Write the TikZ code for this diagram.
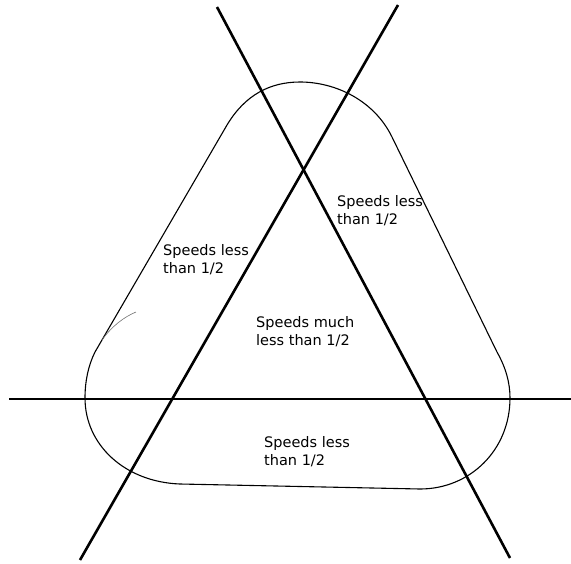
\documentclass[tikz,border=0pt]{standalone}
\usepackage{fontspec}
\setmainfont{DejaVu Sans}
\usepackage{tikz}
\usetikzlibrary{positioning}
\usepackage{xcolor}
\definecolor{inkBlack}{RGB}{0,0,0}
\definecolor{strayGray}{RGB}{110,110,110}

\begin{document}
\begin{tikzpicture}[
  x=1pt, y=-1pt,
  cut/.style={line width=2.6pt, inkBlack},
  blob/.style={line width=1.1pt, inkBlack},
  stray/.style={line width=0.6pt, strayGray},
  region/.style={anchor=north west, inner sep=0pt, align=left,
                 font=\fontsize{14.5}{18.5}\selectfont}
]
  \useasboundingbox (0,0) rectangle (571,563);
  % the three cutting lines
  \coordinate (A1) at (217,7);
  \coordinate (A2) at (510,558);
  \coordinate (B1) at (398,5);
  \coordinate (B2) at (80,560);
  \coordinate (H1) at (9,399);
  \coordinate (H2) at (571,399);
  \draw[cut] (A1) -- (A2);
  \draw[cut] (B1) -- (B2);
  \draw[cut] (H1) -- (H2);
  % rounded triangle
  \draw[blob] (227,125) .. controls (245,95) and (270,82) .. (300,82)
    .. controls (335,82) and (374,100) .. (392,137)
    -- (497,352)
    .. controls (506,368) and (510,383) .. (510,398)
    .. controls (510,450) and (470,489) .. (420,489)
    -- (180,484)
    .. controls (125,482) and (85,445) .. (85,398)
    .. controls (85,382) and (88,366) .. (95,352)
    -- cycle;
  \draw[stray] (102,340) .. controls (112,326) and (124,317) .. (136,312);
  % labels
  \node[region] (left)   at (163,244) {Speeds less\\than 1/2};
  \node[region] (right)  at (337,195) {Speeds less\\than 1/2};
  \node[region] (middle) at (256,316) {Speeds much\\less than 1/2};
  \node[region] (bottom) at (264,436) {Speeds less\\than 1/2};
\end{tikzpicture}
\end{document}
